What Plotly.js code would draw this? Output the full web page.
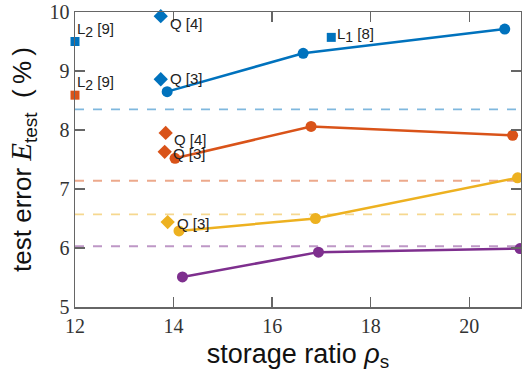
<!DOCTYPE html>
<html>
<head>
<meta charset="utf-8">
<script src="https://cdn.plot.ly/plotly-3.0.1.min.js"></script>
<style>html,body{margin:0;padding:0;background:#fff;}#chart{width:522px;height:377px;}</style>
</head>
<body>
<div id="chart"></div>
<script>
// Series (storage ratio, test error %)
const blueX = [13.87, 16.63, 20.72];
const blueY = [8.65, 9.30, 9.71];
const orangeX = [14.03, 16.79, 20.88];
const orangeY = [7.52, 8.06, 7.91];
const yellowX = [14.11, 16.88, 20.98];
const yellowY = [6.29, 6.50, 7.19];
const purpleX = [14.18, 16.94, 21.03];
const purpleY = [5.51, 5.93, 5.99];

// Baselines (dashed)
const baselineY = [8.35, 7.14, 6.57, 6.03];

// Reference points
const blueQX = [13.74, 13.74];
const blueQY = [8.86, 9.93];
const blueQLabels = ["Q [3]", "Q [4]"];
const orangeQX = [13.84, 13.82];
const orangeQY = [7.95, 7.63];
const orangeQLabels = ["Q [4]", "Q [3]"];
const yellowQX = [13.88];
const yellowQY = [6.44];
const yellowQLabels = ["Q [3]"];
const l2X = [12.0, 12.0];
const l2Y = [9.50, 8.59];
const l2Labels = ["L<sub><span style=\"font-size:14px\">2</span></sub> [9]", "L<sub><span style=\"font-size:14px\">2</span></sub> [9]"];
const l1X = [17.2];
const l1Y = [9.57];
const l1Labels = ["L<sub><span style=\"font-size:14px\">1</span></sub> [8]"];

const xTicks = [12, 14, 16, 18, 20];
const yTicks = [5, 6, 7, 8, 9, 10];

const C = {blue:'#0072BD', orange:'#D95319', yellow:'#EDB120', purple:'#7E2F8E'};
const Cl = ['rgba(0,114,189,0.5)','rgba(217,83,25,0.5)','rgba(237,177,32,0.5)','rgba(126,47,142,0.5)'];

function lineTrace(x,y,c){return {x:x,y:y,mode:'lines+markers',type:'scatter',line:{color:c,width:2.5},marker:{color:c,size:11,symbol:'circle'},cliponaxis:true,hoverinfo:'none'};}
function ptTrace(x,y,c,sym,sz){return {x:x,y:y,mode:'markers',type:'scatter',marker:{color:c,size:sz,symbol:sym},cliponaxis:false,hoverinfo:'none'};}

const traces = [
  lineTrace(blueX,blueY,C.blue),
  lineTrace(orangeX,orangeY,C.orange),
  lineTrace(yellowX,yellowY,C.yellow),
  lineTrace(purpleX,purpleY,C.purple),
  ptTrace(blueQX,blueQY,C.blue,'diamond',11),
  ptTrace(orangeQX,orangeQY,C.orange,'diamond',11),
  ptTrace(yellowQX,yellowQY,C.yellow,'diamond',11),
  ptTrace([l2X[0]],[l2Y[0]],C.blue,'square',9),
  ptTrace([l2X[1]],[l2Y[1]],C.orange,'square',9),
  ptTrace(l1X,l1Y,C.blue,'square',9)
];

const shapes = baselineY.map((y,i)=>({type:'line',xref:'paper',x0:0,x1:1,yref:'y',y0:y,y1:y,line:{color:Cl[i],width:1.8,dash:'dash'},layer:'below'}));

const annFont = {family:'Liberation Sans, Arial, sans-serif', size:15, color:'#222'};
const annotations = [];
function addAnn(xs,ys,labels,dx,shifts){
  xs.forEach((x,i)=>annotations.push({x:x,y:ys[i],xref:'x',yref:'y',text:labels[i],showarrow:false,xanchor:'left',yanchor:'middle',xshift:dx,yshift:shifts[i],font:annFont}));
}
addAnn(blueQX,blueQY,blueQLabels,7,[1,-7]);
addAnn(orangeQX,orangeQY,orangeQLabels,6,[-7,-2]);
addAnn(yellowQX,yellowQY,yellowQLabels,7,[-1]);
addAnn(l2X,l2Y,l2Labels,0,[12,12]);
addAnn(l1X,l1Y,l1Labels,4,[2]);

const yTitle = 'test error\u00a0<span style="font-family:Liberation Serif;font-style:italic;font-size:29px">E</span><sub><span style="font-size:19px">test</span></sub>\u00a0\u00a0(\u2009%\u2009)\u00a0\u00a0\u00a0';

const layout = {
  width:522, height:377,
  margin:{l:75, r:1, t:12, b:70},
  paper_bgcolor:'#fff', plot_bgcolor:'#fff',
  showlegend:false,
  xaxis:{range:[12,21.05], tickvals:xTicks, ticktext:xTicks.map(String), ticks:'inside', ticklen:10, tickwidth:1.5, tickcolor:'#666',
    showline:true, linecolor:'#666', linewidth:1.5, mirror:'ticks', showgrid:false, zeroline:false,
    tickfont:{family:'Liberation Serif, Times New Roman, serif', size:20, color:'#333'},
    title:{text:'storage ratio <i>ρ</i><sub>s</sub>', font:{family:'Liberation Sans, Arial, sans-serif', size:27, color:'#111'}, standoff:8}},
  yaxis:{range:[5,10], tickvals:yTicks, ticktext:yTicks.map(String), ticks:'inside', ticklen:10, tickwidth:1.5, tickcolor:'#666',
    showline:true, linecolor:'#666', linewidth:1.5, mirror:'ticks', showgrid:false, zeroline:false,
    tickfont:{family:'Liberation Serif, Times New Roman, serif', size:20, color:'#333'},
    title:{text:yTitle, font:{family:'Liberation Sans, Arial, sans-serif', size:26, color:'#111'}, standoff:10}},
  shapes:shapes,
  annotations:annotations
};

Plotly.newPlot('chart', traces, layout, {staticPlot:true, displayModeBar:false});
</script>
</body>
</html>
